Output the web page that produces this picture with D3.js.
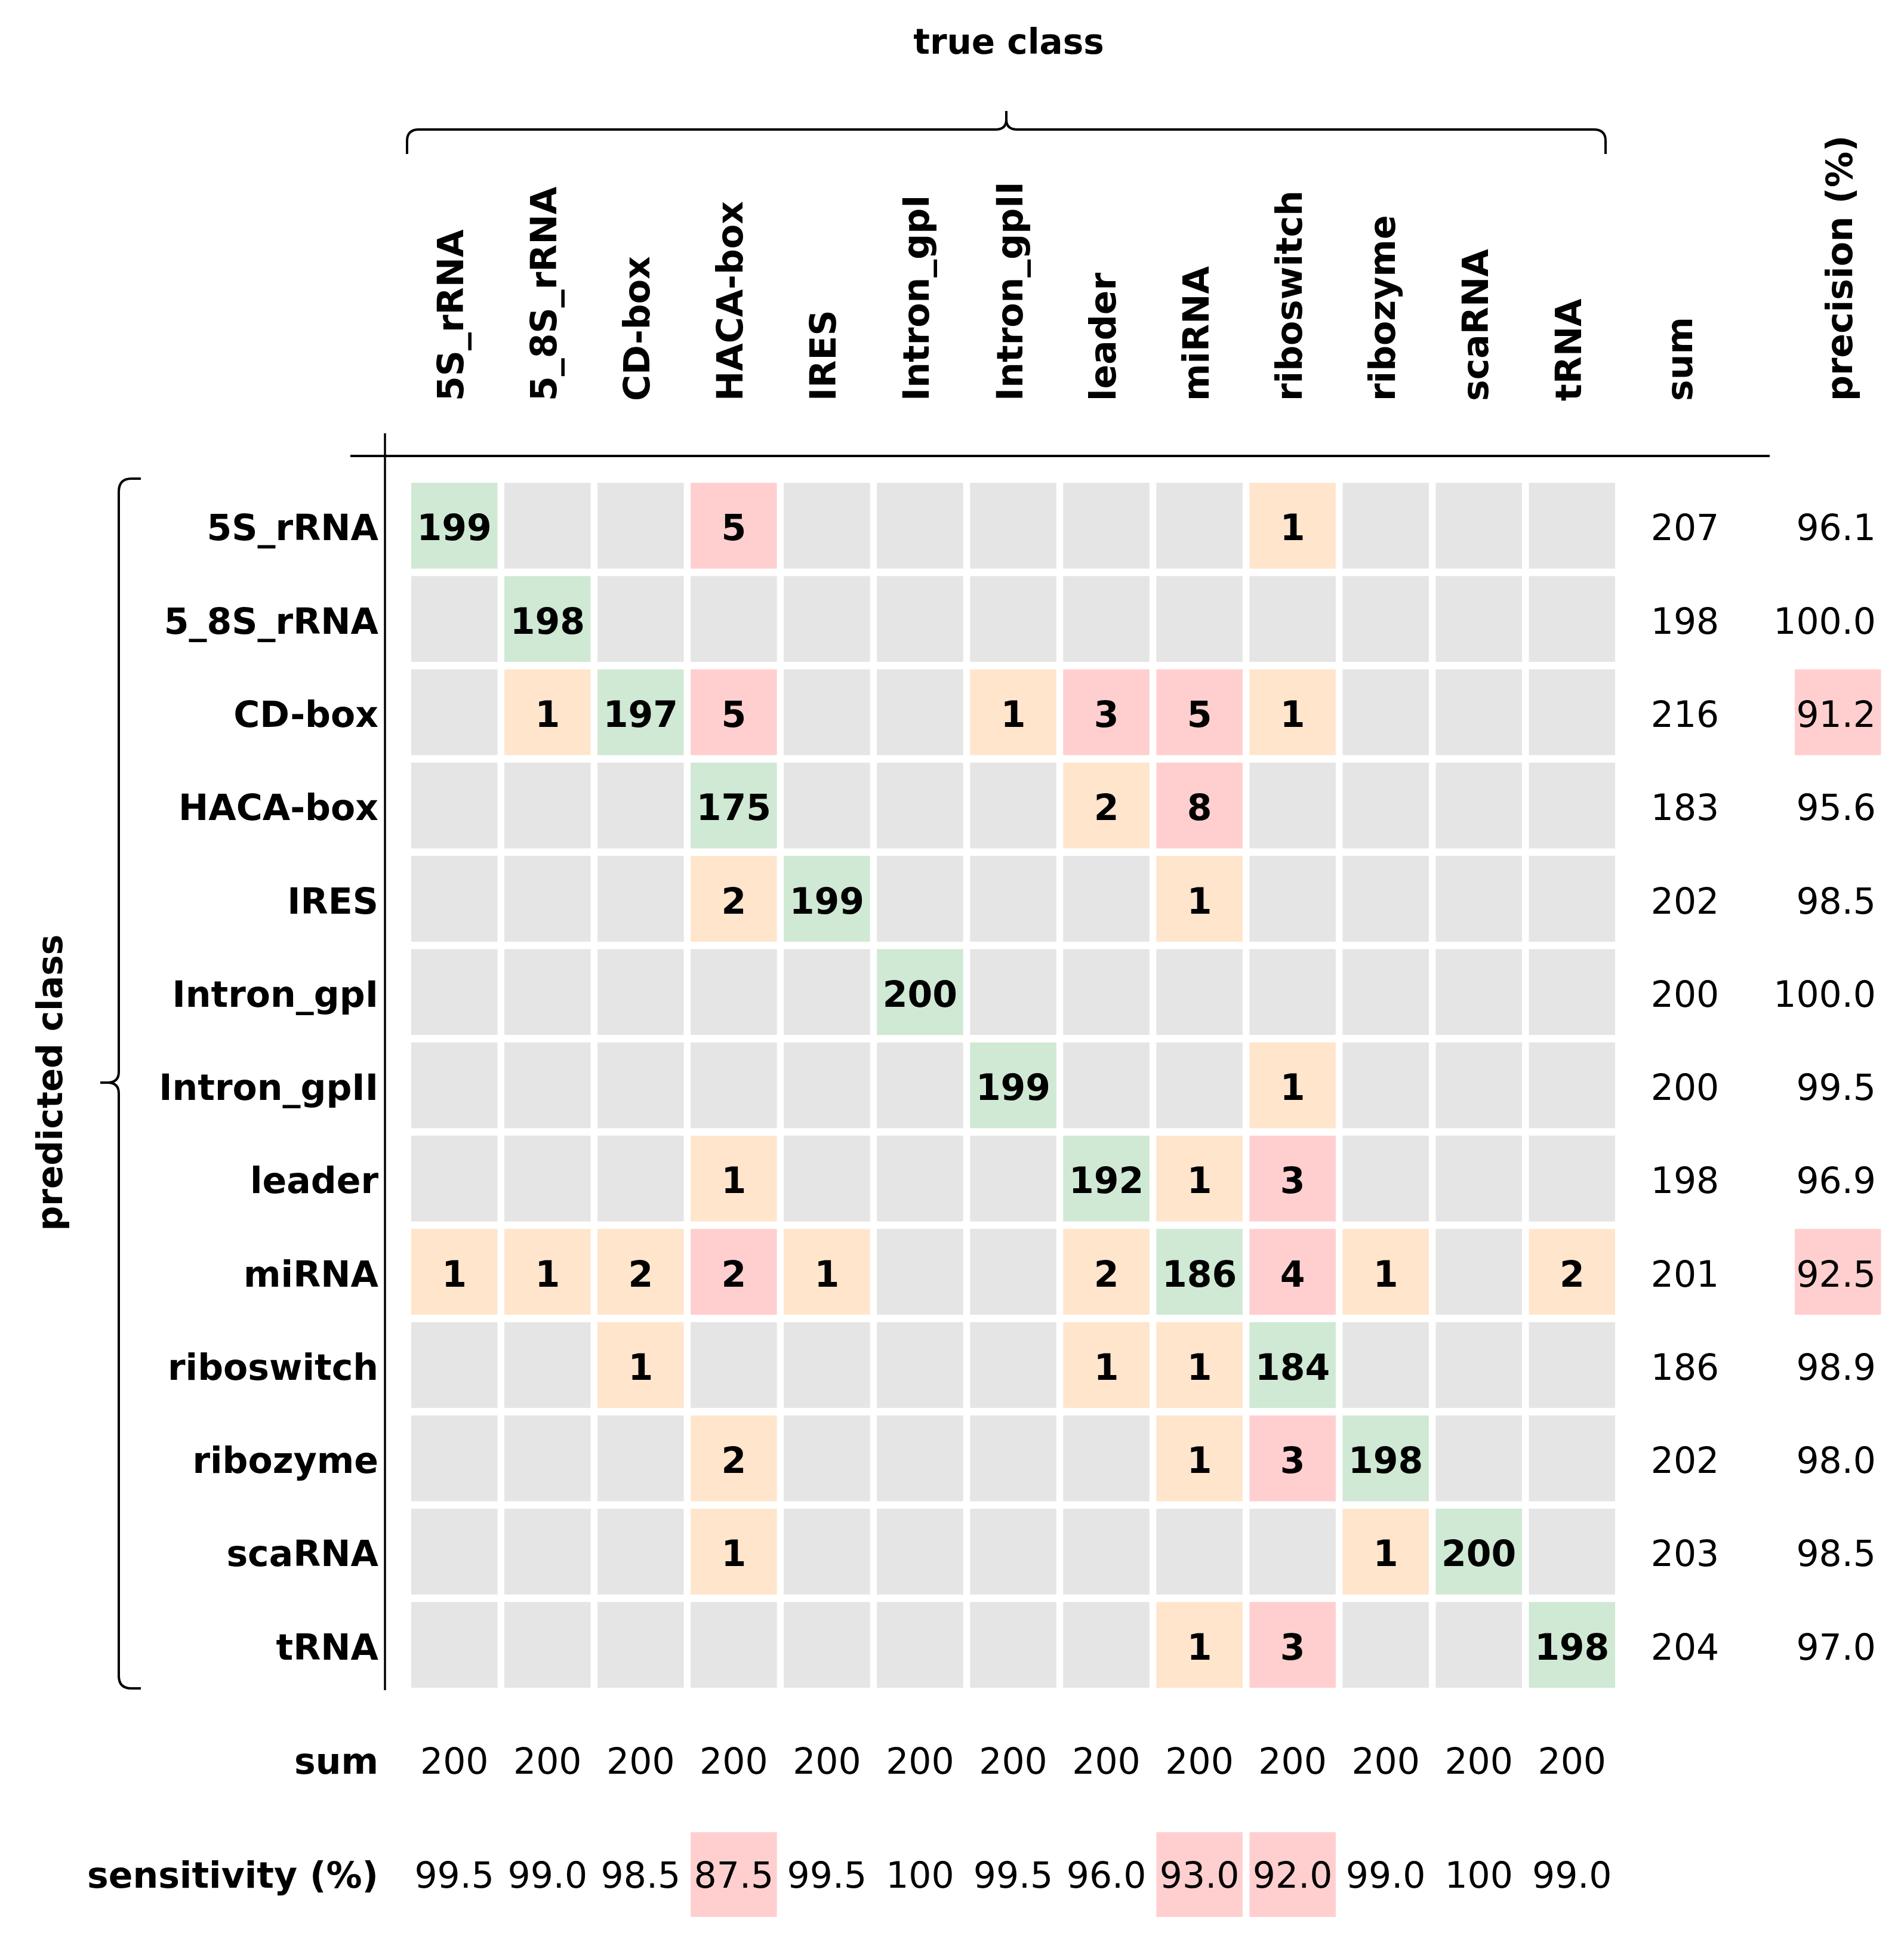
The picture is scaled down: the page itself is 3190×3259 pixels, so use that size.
<!DOCTYPE html>
<html>
<head>
<meta charset="utf-8">
<script src="https://cdn.jsdelivr.net/npm/d3@7"></script>
<style>
  html, body { margin: 0; padding: 0; background: #ffffff; }
  svg { display: block; }
  text { font-family: "DejaVu Sans", Verdana, sans-serif; fill: #000; }
</style>
</head>
<body>
<script>
// ---------------- data ----------------
const classes = ["5S_rRNA", "5_8S_rRNA", "CD-box", "HACA-box", "IRES", "Intron_gpI", "Intron_gpII",
                 "leader", "miRNA", "riboswitch", "ribozyme", "scaRNA", "tRNA"];

// rows = predicted class, columns = true class (0 = empty cell)
const counts = [
  [199, 0, 0, 5, 0, 0, 0, 0, 0, 1, 0, 0, 0],
  [0, 198, 0, 0, 0, 0, 0, 0, 0, 0, 0, 0, 0],
  [0, 1, 197, 5, 0, 0, 1, 3, 5, 1, 0, 0, 0],
  [0, 0, 0, 175, 0, 0, 0, 2, 8, 0, 0, 0, 0],
  [0, 0, 0, 2, 199, 0, 0, 0, 1, 0, 0, 0, 0],
  [0, 0, 0, 0, 0, 200, 0, 0, 0, 0, 0, 0, 0],
  [0, 0, 0, 0, 0, 0, 199, 0, 0, 1, 0, 0, 0],
  [0, 0, 0, 1, 0, 0, 0, 192, 1, 3, 0, 0, 0],
  [1, 1, 2, 2, 1, 0, 0, 2, 186, 4, 1, 0, 2],
  [0, 0, 1, 0, 0, 0, 0, 1, 1, 184, 0, 0, 0],
  [0, 0, 0, 2, 0, 0, 0, 0, 1, 3, 198, 0, 0],
  [0, 0, 0, 1, 0, 0, 0, 0, 0, 0, 1, 200, 0],
  [0, 0, 0, 0, 0, 0, 0, 0, 1, 3, 0, 0, 198]
];

// highlight category of each cell: g = correct, o = minor confusion, r = major confusion, "" = none
const cellFlags = [
  ["g", "", "", "r", "", "", "", "", "", "o", "", "", ""],
  ["", "g", "", "", "", "", "", "", "", "", "", "", ""],
  ["", "o", "g", "r", "", "", "o", "r", "r", "o", "", "", ""],
  ["", "", "", "g", "", "", "", "o", "r", "", "", "", ""],
  ["", "", "", "o", "g", "", "", "", "o", "", "", "", ""],
  ["", "", "", "", "", "g", "", "", "", "", "", "", ""],
  ["", "", "", "", "", "", "g", "", "", "o", "", "", ""],
  ["", "", "", "o", "", "", "", "g", "o", "r", "", "", ""],
  ["o", "o", "o", "r", "o", "", "", "o", "g", "r", "o", "", "o"],
  ["", "", "o", "", "", "", "", "o", "o", "g", "", "", ""],
  ["", "", "", "o", "", "", "", "", "o", "r", "g", "", ""],
  ["", "", "", "o", "", "", "", "", "", "", "o", "g", ""],
  ["", "", "", "", "", "", "", "", "o", "r", "", "", "g"]
];

const rowSums = [207, 198, 216, 183, 202, 200, 200, 198, 201, 186, 202, 203, 204];
const precision = ["96.1", "100.0", "91.2", "95.6", "98.5", "100.0", "99.5", "96.9", "92.5", "98.9", "98.0", "98.5", "97.0"];
const precisionLow = [false, false, true, false, false, false, false, false, true, false, false, false, false];

const colSums = [200, 200, 200, 200, 200, 200, 200, 200, 200, 200, 200, 200, 200];
const sensitivity = ["99.5", "99.0", "98.5", "87.5", "99.5", "100", "99.5", "96.0", "93.0", "92.0", "99.0", "100", "99.0"];
const sensitivityLow = [false, false, false, true, false, false, false, false, true, true, false, false, false];

const titleTop = "true class";
const titleLeft = "predicted class";
const sumLabel = "sum";
const precisionLabel = "precision (%)";
const sensitivityLabel = "sensitivity (%)";

// ---------------- layout ----------------
const W = 3190, H = 3259;
const FS = 60;
const gridLeft = 689, gridTop = 809, gridW = 2017, gridH = 2019;

const svg = d3.select("body").append("svg")
  .attr("width", W).attr("height", H)
  .attr("viewBox", `0 0 ${W} ${H}`);

const x = d3.scaleBand().domain(d3.range(classes.length))
  .range([gridLeft, gridLeft + gridW]).paddingInner(0.074).paddingOuter(0);
const y = d3.scaleBand().domain(d3.range(classes.length))
  .range([gridTop, gridTop + gridH]).paddingInner(0.08).paddingOuter(0);

const fill = d3.scaleOrdinal()
  .domain(["", "g", "o", "r"])
  .range(["#e5e5e5", "#cfe9d4", "#ffe5cc", "#ffcfcf"]);

// extra columns / rows
const sumX = 2823;
const precBoxX = 3007, precRight = 3143;
const sumRowY = 2950, sensRowY = 3141;

// ---------------- cells ----------------
const cells = [];
counts.forEach((row, r) => row.forEach((v, c) => cells.push({ r, c, v, f: cellFlags[r][c] })));

const gCells = svg.append("g");
gCells.selectAll("rect").data(cells).join("rect")
  .attr("x", d => x(d.c)).attr("y", d => y(d.r))
  .attr("width", x.bandwidth()).attr("height", y.bandwidth())
  .attr("fill", d => fill(d.f));

gCells.selectAll("text").data(cells.filter(d => d.v > 0)).join("text")
  .attr("x", d => x(d.c) + x.bandwidth() / 2)
  .attr("y", d => y(d.r) + y.bandwidth() / 2 + 3)
  .attr("dy", "0.36em")
  .attr("text-anchor", "middle")
  .attr("font-size", FS).attr("font-weight", "bold")
  .text(d => d.v);

// ---------------- row labels ----------------
svg.append("g").selectAll("text").data(classes).join("text")
  .attr("x", 634)
  .attr("y", (d, i) => y(i) + y.bandwidth() / 2 + 3)
  .attr("dy", "0.36em")
  .attr("text-anchor", "end")
  .attr("font-size", FS).attr("font-weight", "bold")
  .text(d => d);

// ---------------- column labels ----------------
const colLabelBase = 672;
svg.append("g").selectAll("text").data(classes).join("text")
  .attr("transform", (d, i) => `translate(${x(i) + x.bandwidth() / 2 + 15},${colLabelBase}) rotate(-90)`)
  .attr("text-anchor", "start")
  .attr("font-size", FS).attr("font-weight", "bold")
  .text(d => d);

svg.append("text")
  .attr("transform", `translate(${sumX + 12},${colLabelBase}) rotate(-90)`)
  .attr("font-size", FS).attr("font-weight", "bold")
  .text(sumLabel);

svg.append("text")
  .attr("transform", `translate(${precBoxX + x.bandwidth() / 2 + 24},${colLabelBase}) rotate(-90)`)
  .attr("font-size", FS).attr("font-weight", "bold")
  .text(precisionLabel);

// ---------------- row sums & precision ----------------
const gRight = svg.append("g");
gRight.selectAll("text.rs").data(rowSums).join("text").attr("class", "rs")
  .attr("x", sumX)
  .attr("y", (d, i) => y(i) + y.bandwidth() / 2 + 3)
  .attr("dy", "0.36em").attr("text-anchor", "middle")
  .attr("font-size", FS)
  .text(d => d);

gRight.selectAll("rect.pr").data(precision.map((p, i) => ({ p, i })).filter(d => precisionLow[d.i]))
  .join("rect").attr("class", "pr")
  .attr("x", precBoxX).attr("y", d => y(d.i))
  .attr("width", x.bandwidth()).attr("height", y.bandwidth())
  .attr("fill", fill("r"));

gRight.selectAll("text.pr").data(precision).join("text").attr("class", "pr")
  .attr("x", precRight)
  .attr("y", (d, i) => y(i) + y.bandwidth() / 2 + 3)
  .attr("dy", "0.36em").attr("text-anchor", "end")
  .attr("font-size", FS)
  .text(d => d);

// ---------------- column sums & sensitivity ----------------
const gBottom = svg.append("g");
gBottom.append("text")
  .attr("x", 634).attr("y", sumRowY).attr("dy", "0.36em")
  .attr("text-anchor", "end").attr("font-size", FS).attr("font-weight", "bold")
  .text(sumLabel);
gBottom.append("text")
  .attr("x", 634).attr("y", sensRowY).attr("dy", "0.36em")
  .attr("text-anchor", "end").attr("font-size", FS).attr("font-weight", "bold")
  .text(sensitivityLabel);

gBottom.selectAll("text.cs").data(colSums).join("text").attr("class", "cs")
  .attr("x", (d, i) => x(i) + x.bandwidth() / 2)
  .attr("y", sumRowY).attr("dy", "0.36em")
  .attr("text-anchor", "middle").attr("font-size", FS)
  .text(d => d);

gBottom.selectAll("rect.se").data(sensitivity.map((s, i) => ({ s, i })).filter(d => sensitivityLow[d.i]))
  .join("rect").attr("class", "se")
  .attr("x", d => x(d.i)).attr("y", sensRowY - 71)
  .attr("width", x.bandwidth()).attr("height", 142)
  .attr("fill", fill("r"));

gBottom.selectAll("text.se").data(sensitivity).join("text").attr("class", "se")
  .attr("x", (d, i) => x(i) + x.bandwidth() / 2)
  .attr("y", sensRowY).attr("dy", "0.36em")
  .attr("text-anchor", "middle").attr("font-size", FS)
  .text(d => d);

// ---------------- axis lines ----------------
svg.append("line").attr("x1", 587).attr("x2", 2965).attr("y1", 764).attr("y2", 764)
  .attr("stroke", "#000").attr("stroke-width", 4);
svg.append("line").attr("x1", 645).attr("x2", 645).attr("y1", 726).attr("y2", 2832)
  .attr("stroke", "#000").attr("stroke-width", 3.5);

// ---------------- braces ----------------
const topBrace = "M682,258 V236 Q682,217 702,217 H1668 Q1686,217 1686,200 V186 M1686,200 Q1686,217 1704,217 H2670 Q2690,217 2690,236 V258";
svg.append("path").attr("d", topBrace).attr("fill", "none")
  .attr("stroke", "#000").attr("stroke-width", 4);

const leftBrace = "M236,802 H220 Q199,802 199,824 V1796 Q199,1814 180,1814 H168 M180,1814 Q199,1814 199,1832 V2808 Q199,2829 220,2829 H236";
svg.append("path").attr("d", leftBrace).attr("fill", "none")
  .attr("stroke", "#000").attr("stroke-width", 4);

// ---------------- titles ----------------
svg.append("text")
  .attr("x", 1690).attr("y", 69).attr("dy", "0.36em")
  .attr("text-anchor", "middle").attr("font-size", 58).attr("font-weight", "bold")
  .text(titleTop);

svg.append("text")
  .attr("transform", `translate(104,1814) rotate(-90)`)
  .attr("text-anchor", "middle").attr("font-size", 58).attr("font-weight", "bold")
  .text(titleLeft);
</script>
</body>
</html>
